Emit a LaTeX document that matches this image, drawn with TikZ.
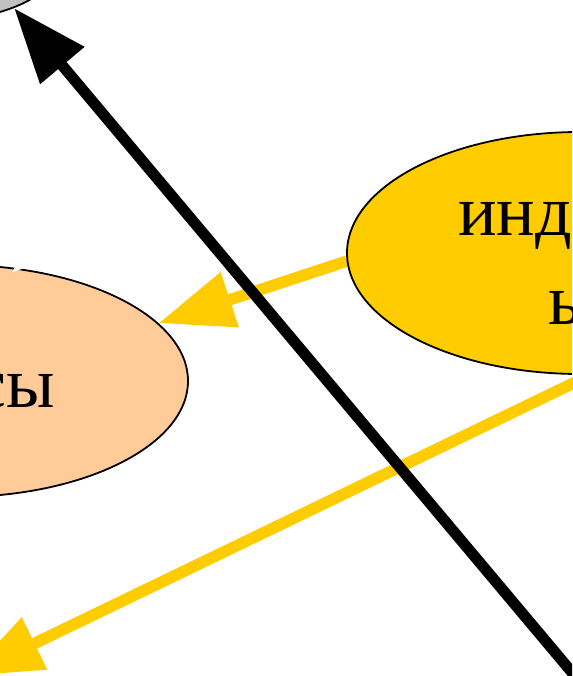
\documentclass[tikz,border=0pt]{standalone}
\usepackage{fontspec}
\setmainfont{Liberation Serif}
\usetikzlibrary{shapes.geometric}
\usetikzlibrary{arrows.meta}
\usetikzlibrary{backgrounds}

\definecolor{peach}{HTML}{FFCC99}
\definecolor{gold}{HTML}{FFCC00}
\definecolor{greyfill}{HTML}{C0C0C0}

\begin{document}
\begin{tikzpicture}[x=1pt,y=-1pt,every node/.style={inner sep=0pt},
	blob/.style={draw,ellipse,line width=1.8pt},
	word/.style={font=\fontsize{72}{86}\selectfont},
	fat/.style={line width=#1,-{Triangle[length=75pt,width=55pt]}}]
	  \useasboundingbox (0,0) rectangle (572,676);
	  \clip (0,0) rectangle (572,676);

	  \node[blob,fill=greyfill,minimum width=240pt,minimum height=120pt] (top) at (-60,-40) {};
	  \node[blob,fill=peach,minimum width=462pt,minimum height=232pt] (res) at (-43,381) {};
	  \node[blob,fill=gold,minimum width=466pt,minimum height=242pt] (ind) at (580,253) {};
	  \node[word,anchor=base east] (resA) at (55,407) {сы};
	  \node[word,anchor=base west] (indA) at (458,235) {инд};
	  \node[word,anchor=base west] (indB) at (548,324) {ы};

	  \coordinate (outSW) at (-33,676);
	  \coordinate (outSE) at (612,720);
	  \coordinate (outW) at (90,205);

	  \begin{scope}[on background layer]
	  \draw[fat=11.5pt,gold] (ind.182) -- (res.16);
	  \draw[fat=11.5pt,gold] (ind.-85) -- (outSW);
	  \end{scope}
	  \draw[fat=6pt,white,shorten >=-7pt] (outW) -- (res.62);
	  \draw[fat=11pt,black] (outSE) -- (top.-33);
	  %ellipses run past the page edge
	\end{tikzpicture}
\end{document}
